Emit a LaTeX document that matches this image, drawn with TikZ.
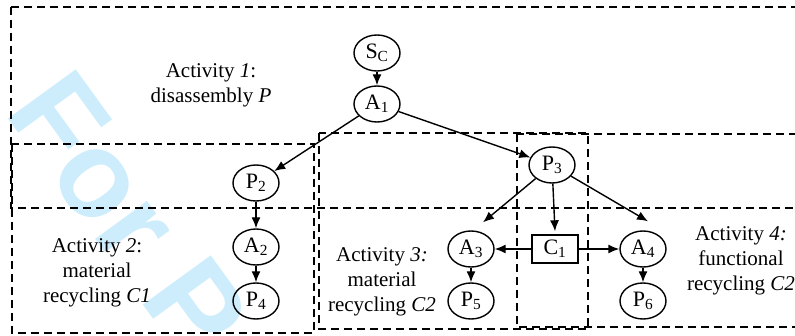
\documentclass[tikz,border=0pt]{standalone}
\usepackage{fontspec}
\setmainfont{Liberation Serif}
\newfontfamily\markfont{Liberation Sans}
\usetikzlibrary{shapes.geometric, arrows.meta}
\definecolor{markblue}{RGB}{206,237,252}

\begin{document}
\begin{tikzpicture}[x=1pt, y=-1pt,
    state/.style={ellipse, draw, line width=1.4pt, minimum width=46pt, minimum height=36pt, inner sep=0pt, font=\fontsize{22}{26}\selectfont},
    choice/.style={rectangle, draw, line width=1.4pt, minimum width=46pt, minimum height=28pt, inner sep=0pt, font=\fontsize{22}{26}\selectfont},
    flow/.style={-{Latex[length=11pt,width=9pt]}, line width=1.4pt},
    zone/.style={dash pattern=on 8pt off 5pt, line width=1.4pt},
    actlabel/.style={align=center, font=\fontsize{21}{25}\selectfont}]
\useasboundingbox (0,0) rectangle (795,336);
\clip (0,0) rectangle (795,336);

% Watermark
\node[anchor=base west, rotate=-54, inner sep=0pt, text=markblue, font=\markfont\bfseries\fontsize{122}{122}\selectfont] (mark) at (3,112) {For P};

% Activity zones
\draw[zone] (11,7) rectangle (802,208);
\draw[zone] (12,144) rectangle (314,333);
\draw[zone] (319,133) rectangle (588,329);
\draw[zone] (517,134) rectangle (802,327);

% Activity labels
\node[actlabel] (act1) at (211,85) {Activity \textit{1}:\\disassembly \textit{P}};
\node[actlabel] (act2) at (97,273) {Activity \textit{2}:\\material\\recycling \textit{C1}};
\node[actlabel] (act3) at (382,282) {Activity \textit{3:}\\material\\recycling \textit{C2}};
\node[actlabel] (act4) at (741,261) {Activity \textit{4:}\\functional\\recycling \textit{C2}};

% Process nodes
\node[state] (sc) at (377,53) {S\textsubscript{C}};
\node[state] (a1) at (377,104) {A\textsubscript{1}};
\node[state] (p2) at (256,183) {P\textsubscript{2}};
\node[state] (a2) at (256,247) {A\textsubscript{2}};
\node[state] (p4) at (256,301) {P\textsubscript{4}};
\node[state] (p3) at (552,165) {P\textsubscript{3}};
\node[state] (a3) at (471,249) {A\textsubscript{3}};
\node[choice] (c1) at (555,249) {C\textsubscript{1}};
\node[state] (a4) at (643,249) {A\textsubscript{4}};
\node[state] (p5) at (471,301) {P\textsubscript{5}};
\node[state] (p6) at (643,301) {P\textsubscript{6}};

% Connections
\draw[flow] (sc) -- (a1);
\draw[flow] (a1) -- (p2);
\draw[flow] (a1) -- (p3);
\draw[flow] (p2) -- (a2);
\draw[flow] (a2) -- (p4);
\draw[flow] (p3) -- ([shift={(12pt,8pt)}]a3.north);
\draw[flow] (p3) -- ([yshift=3pt]c1.north);
\draw[flow] (p3) -- ([shift={(5pt,9pt)}]a4.north);
\draw[flow] (c1) -- (a3);
\draw[flow] (c1) -- (a4);
\draw[flow] (a3) -- (p5);
\draw[flow] (a4) -- (p6);
\end{tikzpicture}
\end{document}
